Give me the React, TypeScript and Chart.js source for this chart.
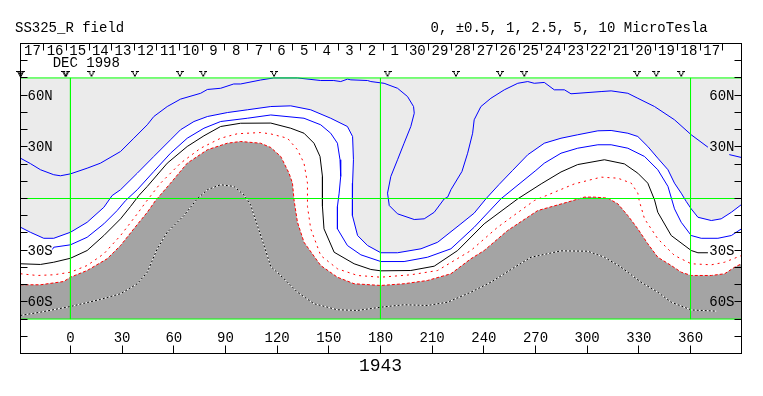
import React, { useEffect, useRef } from 'react';
import { Chart, registerables } from 'chart.js';

Chart.register(...registerables);

const FONT = "'Liberation Mono', 'Courier New', monospace";

// ---- axes ----
const LON_MIN = -29;
const LON_MAX = 389.6;
const LAT_MIN = -90;
const LAT_MAX = 90;
const MAP_LAT = 70;

const LON_TICKS = [0, 30, 60, 90, 120, 150, 180, 210, 240, 270, 300, 330, 360];
const LAT_TICKS = [-80, -70, -60, -50, -40, -30, -20, -10, 0, 10, 20, 30, 40, 50, 60, 70, 80];
const LAT_TICK_LABELS: [number, string][] = [[60, '60N'], [30, '30N'], [-30, '30S'], [-60, '60S']];
const GRID_LONS = [0, 180, 360];
const GRID_LATS = [70, 0, -70];

const DAY_LABELS = ['17', '16', '15', '14', '13', '12', '11', '10', '9', '8', '7', '6', '5', '4', '3', '2', '1',
  '30', '29', '28', '27', '26', '25', '24', '23', '22', '21', '20', '19', '18', '17'];
const DAY_FIRST_SEP_LON = -15.5;
const DAY_STEP_LON = 13.145;
const MONTH_LABEL = 'DEC 1998';
const MONTH_LABEL_LON = -10.3;

const MARKER_LONS = [-29.2, -28.7, -3.0, -2.5, 12.2, 37.4, 63.5, 77.1, 118.2, 184.1, 223.8, 249.4, 263.5, 329.0, 340.1, 354.6];
const MARKER_LAT = 72.3;

const TITLE = 'SS325_R field';
const UNITS = '0, \u00b10.5, 1, 2.5, 5, 10 MicroTesla';
const ROTATION = '1943';

// ---- contours [lon, lat] ----
type P = [number, number | null];

const B1: P[] = [[-29, 23.4], [-23.3, 20.3], [-17.4, 16.7], [-9.7, 13.8], [-5.8, 13.2], [0, 14.3], [9.7, 17.6], [17.4, 20.5],
  [29.1, 27.3], [36.8, 35.0], [44.6, 42.8], [48.4, 47.6], [56.2, 53.4], [63.9, 57.7], [75.6, 61.1], [79.5, 63.3], [87.2, 64.0],
  [94.8, 66.5], [98.8, 66.5], [110.4, 68.8], [118.0, 70], [131.8, 70], [145.3, 68.5], [152.9, 68.5], [156.9, 67.9], [160.8, 69.3],
  [162.8, 68.9], [172.5, 68.5], [174.4, 67.9], [182.1, 66.9], [189.9, 64.0], [195.7, 59.2], [199.2, 53.4], [199.6, 49.5],
  [197.6, 41.8], [193.7, 32.1], [189.9, 22.5], [186.0, 12.8], [184.1, 3.1], [185.1, -4.1], [189.9, -8.9], [199.6, -12.2],
  [205.4, -11.8], [211.2, -8.0], [217.0, -0.2], [219.0, 0.8], [220.9, 5.1], [227.3, 15.7], [230.6, 26.3], [233.5, 37.9],
  [234.4, 45.7], [238.3, 53.4], [244.1, 58.2], [251.9, 63.1], [259.7, 66.9], [265.5, 67.9], [269.3, 66.9], [275.1, 67.4],
  [280.9, 63.1], [286.8, 63.1], [290.6, 60.8], [308.1, 62.1], [313.9, 62.5], [323.6, 61.1], [329.4, 58.2], [339.1, 53.4],
  [350.7, 45.7], [360.4, 37.0], [370.1, 29.8], [376, null], [382.5, 25.5], [389.6, 23.8]];

const B2: P[] = [[-29, -16.7], [-23.3, -19.6], [-15.5, -23.1], [-9.7, -23.1], [0, -19.6], [9.7, -13.8], [19.4, -5.1], [24.2, 1.7],
  [29.1, 5.1], [38.8, 14.7], [48.4, 24.4], [58.1, 34.1], [63.9, 39.9], [71.7, 44.7], [79.5, 47.6], [91.1, 49.9], [102.7, 51.5],
  [116.3, 53.4], [127.9, 53.8], [139.5, 51.5], [151.1, 46.6], [160.8, 41.8], [163.8, 36.0], [164.3, 22.5], [163.8, 8.9],
  [163.6, -4.6], [163.8, -9.9], [166.7, -21.5], [172.5, -27.3], [180.2, -31.5], [189.9, -31.5], [203.5, -29.2], [213.2, -25.4],
  [226.7, -14.7], [234.4, -8.5], [241.2, -0.2], [248.8, 8.1], [256.7, 16.3], [265.5, 25.4], [275.1, 32.1], [284.8, 35.0],
  [294.5, 37.0], [306.2, 39.3], [313.9, 39.5], [323.6, 37.9], [329.4, 36.0], [335.2, 30.2], [341.0, 23.4], [346.9, 16.7],
  [350.7, 8.9], [354.6, 3.1], [357.5, -1.7], [360.4, -6.0], [364.3, -10.9], [372.1, -12.8], [377.8, -11.8], [383.7, -8.0],
  [389.6, -3.5]];

const B3: P[] = [[-10.5, -29.6], [-9.7, -28.3], [0, -26.9], [9.7, -22.5], [19.4, -14.7], [27.1, -7.0], [32.0, -1.2], [38.8, 5.1],
  [48.4, 15.7], [58.1, 26.3], [67.8, 35.0], [77.5, 40.8], [87.2, 44.7], [102.7, 46.6], [116.3, 48.5], [135.6, 46.6],
  [145.3, 42.8], [151.1, 37.9], [155.0, 32.1], [156.5, 22.5], [156.9, 12.8], [156.0, 3.1], [155.0, -4.6], [155.0, -17.6],
  [160.8, -27.3], [168.6, -32.7], [180.2, -36.6], [193.7, -36.6], [207.3, -34.1], [220.9, -29.2], [234.4, -16.7], [249.9, -0.2],
  [270.2, 16.3], [275.1, 20.5], [284.8, 26.3], [294.5, 29.2], [306.2, 31.2], [313.9, 31.2], [323.6, 29.2], [333.3, 24.4],
  [341.0, 16.7], [346.9, 7.0], [350.7, -6.0], [354.6, -13.8], [360.4, -21.5], [366.2, -23.1], [375.9, -23.1], [383.7, -21.5],
  [389.6, -17.6]];

const NEUTRAL: P[] = [[-29, -37.9], [-17.4, -38.3], [-9.7, -37.0], [0, -34.7], [9.7, -30.2], [19.4, -21.5], [29.1, -11.8],
  [34.9, -4.6], [39.7, 1.7], [44.6, 7.0], [56.2, 20.5], [67.8, 30.2], [77.5, 36.4], [87.2, 41.8], [98.8, 43.7], [116.3, 43.8],
  [127.9, 40.8], [135.6, 37.9], [141.4, 32.1], [144.9, 24.4], [146.3, 12.8], [146.3, -4.6], [147.2, -17.6], [153.1, -31.2],
  [164.7, -37.9], [174.4, -41.2], [180.2, -42.0], [197.6, -41.8], [211.2, -39.3], [224.8, -30.2], [240.2, -14.7], [259.7, -0.2],
  [273.3, 8.5], [284.8, 15.4], [294.5, 19.7], [310.0, 22.5], [321.6, 20.1], [329.4, 14.7], [335.2, 8.9], [339.1, -0.8],
  [341.0, -8.0], [348.8, -21.5], [360.4, -30.2], [364.3, -31.5], [370.1, -31.5]];

const R1: P[] = [[-29, -43.7], [-19.4, -44.7], [-9.7, -44.3], [0, -42.8], [9.7, -38.9], [19.4, -32.1], [29.1, -21.5], [38.8, -8.9],
  [43.6, -2.3], [52.3, 8.9], [63.9, 20.5], [75.6, 29.2], [87.2, 35.0], [96.9, 37.6], [110.4, 38.3], [116.3, 37.5], [126.0, 35.0],
  [131.8, 28.3], [135.6, 20.5], [137.6, 8.9], [137.6, -4.6], [139.5, -17.6], [145.3, -33.1], [155.0, -40.8], [166.7, -44.7],
  [180.2, -45.7], [197.6, -44.3], [213.2, -41.8], [232.5, -30.2], [248.0, -16.7], [269.3, -1.2], [292.6, 8.5], [308.1, 12.4],
  [317.8, 11.8], [325.6, 8.9], [329.4, 3.1], [330.2, -1.2], [333.3, -11.8], [341.0, -23.4], [350.7, -33.1], [360.4, -37.9],
  [372.1, -38.5], [379.8, -37.0], [389.6, -33.1]];

const R2: P[] = [[-29, -50.1], [-17.4, -50.1], [-3.9, -48.2], [0, -45.7], [9.7, -41.8], [21.3, -35.0], [29.1, -27.3], [36.8, -17.6],
  [44.6, -8.0], [49.4, -1.2], [58.1, 8.9], [67.8, 20.5], [79.5, 28.3], [91.1, 32.1], [98.8, 33.1], [110.4, 32.1], [116.3, 29.6],
  [122.1, 24.4], [126.9, 14.7], [128.9, 8.9], [129.8, -0.8], [131.8, -13.8], [135.6, -25.4], [145.3, -38.9], [155.0, -45.7],
  [164.7, -49.5], [180.2, -50.5], [193.7, -49.5], [207.3, -47.6], [220.9, -43.7], [232.5, -35.0], [240.2, -30.2], [253.8, -18.6],
  [271.3, -7.0], [288.7, -2.1], [298.4, 0.8], [304.2, 0.8], [312.0, 0.2], [317.8, -3.1], [323.6, -9.9], [329.4, -17.6],
  [335.2, -26.3], [341.0, -34.1], [348.8, -38.9], [354.6, -42.8], [360.4, -44.7], [372.1, -44.7], [379.8, -43.7],
  [385.6, -39.9], [389.6, -37.9]];

const R3: P[] = [[-29, -67.9], [-17.4, -66.0], [0, -62.7], [17.4, -58.6], [29.1, -55.3], [38.8, -49.5], [44.6, -42.8], [50.4, -29.2],
  [56.2, -19.6], [65.9, -9.9], [73.6, -0.2], [79.5, 5.1], [87.2, 8.0], [94.9, 7.0], [100.7, 2.1], [104.6, -3.7], [106.6, -9.9],
  [112.4, -27.3], [116.3, -39.5], [124.0, -46.6], [131.8, -54.4], [141.4, -61.1], [155.0, -64.6], [166.7, -65.0], [180.2, -63.1],
  [193.7, -61.7], [207.3, -62.1], [219.0, -60.2], [232.5, -54.4], [244.1, -48.6], [255.8, -41.2], [267.4, -34.1], [284.8, -30.4],
  [300.3, -30.6], [310.0, -34.1], [319.7, -39.9], [331.3, -48.6], [341.0, -54.4], [348.8, -60.2], [360.4, -64.7], [374.9, -65.4]];

const LIGHT_GRAY = '#ebebeb';
const DARK_GRAY = '#a4a4a4';
const BLUE = '#0000ff';
const RED = '#ff0000';
const GREEN = '#00ff00';

const pts = (arr: P[]) => arr.map(([x, y]) => ({ x, y }));

const lineDs = (arr: P[], color: string, order: number, extra: any = {}) => ({
  data: pts(arr),
  borderColor: color,
  borderWidth: 1,
  pointRadius: 0,
  fill: false,
  order,
  ...extra,
});

const snap = (v: number) => Math.round(v - 0.5) + 0.5;

const overlay = {
  id: 'overlay',
  afterDatasetsDraw(chart: any) {
    const { ctx, chartArea: a, scales } = chart;
    const xs = scales.x;
    const ys = scales.y;
    ctx.save();
    ctx.strokeStyle = '#000';
    ctx.fillStyle = '#000';
    ctx.lineWidth = 1;
    ctx.strokeRect(a.left, a.top, a.right - a.left, a.bottom - a.top);
    ctx.beginPath();
    LAT_TICKS.forEach((v) => {
      const py = snap(ys.getPixelForValue(v));
      ctx.moveTo(a.left, py);
      ctx.lineTo(a.left + 7, py);
      ctx.moveTo(a.right - 7, py);
      ctx.lineTo(a.right, py);
    });
    LON_TICKS.forEach((v) => {
      const px = snap(xs.getPixelForValue(v));
      ctx.moveTo(px, a.bottom - 8);
      ctx.lineTo(px, a.bottom);
    });
    for (let k = 0; k < DAY_LABELS.length; k++) {
      const px = snap(xs.getPixelForValue(DAY_FIRST_SEP_LON + DAY_STEP_LON * k));
      ctx.moveTo(px, a.top);
      ctx.lineTo(px, a.top + 7);
    }
    ctx.stroke();

    ctx.font = `14px ${FONT}`;
    ctx.textBaseline = 'alphabetic';
    ctx.textAlign = 'left';
    LAT_TICK_LABELS.forEach(([v, t]) => {
      ctx.fillText(t, a.left + 7, ys.getPixelForValue(v) + 4.5);
    });
    ctx.textAlign = 'right';
    LAT_TICK_LABELS.forEach(([v, t]) => {
      ctx.fillText(t, a.right - 7, ys.getPixelForValue(v) + 4.5);
    });
    ctx.textAlign = 'center';
    LON_TICKS.forEach((v) => {
      ctx.fillText(String(v), xs.getPixelForValue(v), a.bottom - 11.5);
    });
    DAY_LABELS.forEach((t, i) => {
      ctx.fillText(t, xs.getPixelForValue(DAY_FIRST_SEP_LON + DAY_STEP_LON * (i - 0.5)), a.top + 11);
    });
    ctx.textAlign = 'left';
    ctx.fillText(MONTH_LABEL, xs.getPixelForValue(MONTH_LABEL_LON), a.top + 23.5);
    ctx.fillText(TITLE, 15, 31.5);
    ctx.fillText(UNITS, 430.5, 31.5);
    ctx.font = `18px ${FONT}`;
    ctx.textAlign = 'center';
    ctx.fillText(ROTATION, xs.getPixelForValue(180), 371);
    ctx.restore();
  },
};

function makeMarker() {
  const v = document.createElement('canvas');
  v.width = 8;
  v.height = 6;
  const c = v.getContext('2d')!;
  c.strokeStyle = '#000';
  c.lineWidth = 1;
  c.beginPath();
  c.moveTo(0, 0.5);
  c.lineTo(3, 0.5);
  c.moveTo(5, 0.5);
  c.lineTo(8, 0.5);
  c.moveTo(1.5, 0.5);
  c.lineTo(4, 5.5);
  c.lineTo(6.5, 0.5);
  c.stroke();
  return v;
}

export default function App() {
  const ref = useRef<HTMLCanvasElement>(null);

  useEffect(() => {
    if (!ref.current) return;
    const datasets: any[] = [];
    // light gray map background
    datasets.push({
      data: pts([[LON_MIN, MAP_LAT], [LON_MAX, MAP_LAT]]),
      borderWidth: 0,
      pointRadius: 0,
      fill: { value: -MAP_LAT },
      backgroundColor: LIGHT_GRAY,
      order: 20,
    });
    datasets.push(lineDs(B2, BLUE, 19, { fill: { value: -MAP_LAT }, backgroundColor: '#ffffff' }));
    datasets.push(lineDs(R2, RED, 18, { fill: { value: -MAP_LAT }, backgroundColor: DARK_GRAY, borderDash: [3, 2] }));
    datasets.push(lineDs(R3, '#ffffff', 17));
    datasets.push(lineDs(R3, '#000000', 16, { borderDash: [2, 2] }));
    datasets.push(lineDs(R1, RED, 15, { borderDash: [2, 4] }));
    datasets.push(lineDs(NEUTRAL, '#000000', 14));
    datasets.push(lineDs(B3, BLUE, 13));
    datasets.push(lineDs(B1, BLUE, 12));
    GRID_LATS.forEach((lat) => datasets.push(lineDs([[LON_MIN, lat], [LON_MAX, lat]], GREEN, 2)));
    GRID_LONS.forEach((lon) => datasets.push(lineDs([[lon, MAP_LAT], [lon, -MAP_LAT]], GREEN, 2)));
    datasets.push({
      data: pts(MARKER_LONS.map((lon) => [lon, MARKER_LAT] as P)),
      showLine: false,
      pointRadius: 3,
      pointStyle: makeMarker(),
      clip: false,
      order: 0,
    });

    const chart = new Chart(ref.current, {
      type: 'line',
      data: { datasets },
      options: {
        animation: false,
        responsive: false,
        devicePixelRatio: 1,
        events: [],
        spanGaps: false,
        layout: { padding: { left: 20.5, top: 43.5, right: 21.5, bottom: 42.5 } },
        scales: {
          x: { type: 'linear', min: LON_MIN, max: LON_MAX, display: false },
          y: { type: 'linear', min: LAT_MIN, max: LAT_MAX, display: false },
        },
        plugins: { legend: { display: false }, tooltip: { enabled: false } },
      },
      plugins: [overlay],
    } as any);
    return () => chart.destroy();
  }, []);

  return (
    <div style={{ position: 'fixed', left: 0, top: 0, width: 763, height: 396, background: '#fff' }}>
      <canvas ref={ref} width={763} height={396} style={{ display: 'block' }} />
    </div>
  );
}
